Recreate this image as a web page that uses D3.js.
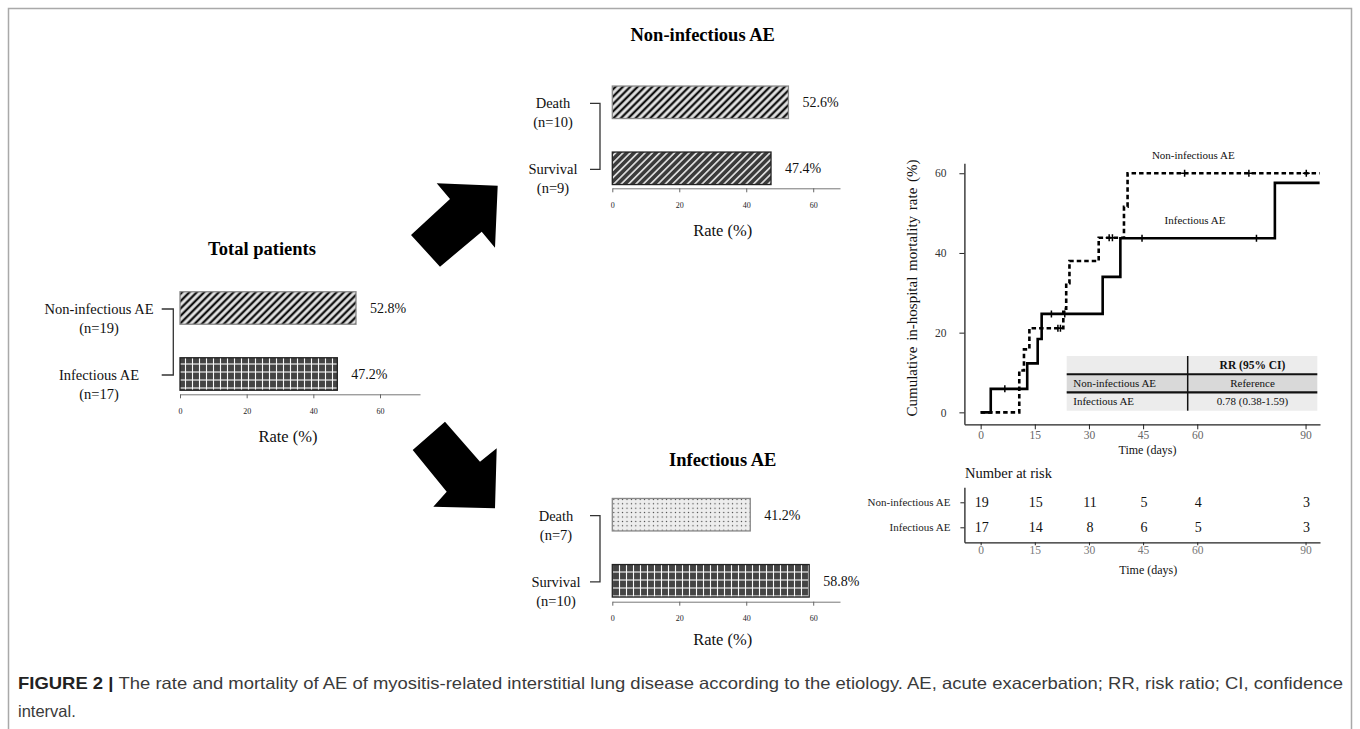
<!DOCTYPE html>
<html>
<head>
<meta charset="utf-8">
<script src="https://cdn.jsdelivr.net/npm/d3@7"></script>
<style>
  body { margin: 0; background: #fff; }
  text { font-family: "Liberation Serif", "Times New Roman", serif; fill: #111; }
  .cap text, text.cap { font-family: "Liberation Sans", Arial, sans-serif; }
</style>
</head>
<body>
<div id="fig"></div>
<script>
// ---- data ----
const totalCats = ["Non-infectious AE", "Infectious AE"];
const totalN = [19, 17];
const totalRate = [52.8, 47.2];

const nonInfCats = ["Death", "Survival"];
const nonInfN = [10, 9];
const nonInfRate = [52.6, 47.4];

const infCats = ["Death", "Survival"];
const infN = [7, 10];
const infRate = [41.2, 58.8];

const rateTicks = [0, 20, 40, 60];

// cumulative mortality curves (step after)
const kmDayTicks = [0, 15, 30, 45, 60, 90];
const kmRateTicks = [0, 20, 40, 60];
const kmEndDay = 93.9;
const nonInfStepDays = [0, 10.7, 12.0, 13.5, 22.9, 23.7, 24.6, 32.7, 39.7, 40.7];
const nonInfStepRates = [0, 10.5, 15.8, 21.1, 26.0, 32.4, 38.0, 43.8, 51.6, 60.0];
const infStepDays = [0, 2.8, 12.9, 15.8, 16.9, 33.8, 38.7, 81.5];
const infStepRates = [0, 5.9, 12.3, 18.4, 24.7, 34.0, 43.7, 57.6];
const nonInfCensorDays = [21.4, 22.1, 35.6, 36.5, 56.5, 74.3, 90.2];
const infCensorDays = [6.7, 19.6, 23.3, 44.7, 76.4];

const riskGroups = ["Non-infectious AE", "Infectious AE"];
const riskNonInf = [19, 15, 11, 5, 4, 3];
const riskInf = [17, 14, 8, 6, 5, 3];

const rrHeader = "RR (95% CI)";
const rrGroups = ["Non-infectious AE", "Infectious AE"];
const rrValues = ["Reference", "0.78 (0.38-1.59)"];

const W = 1360, H = 729;

const svg = d3.select("#fig").append("svg")
  .attr("width", W)
  .attr("height", H);

svg.append("rect").attr("width", W).attr("height", H).attr("fill", "#fff");

// figure frame
svg.append("path")
  .attr("d", "M8.5,729V8.5H1351.5V729")
  .attr("fill", "none")
  .attr("stroke", "#a9a9a9")
  .attr("stroke-width", 1.5);

// ---- fill patterns ----
const defs = svg.append("defs");

function hatch(id, bg, fg, w, sw) {
  const p = defs.append("pattern")
    .attr("id", id)
    .attr("patternUnits", "userSpaceOnUse")
    .attr("width", w)
    .attr("height", w)
    .attr("patternTransform", "rotate(45)");
  p.append("rect").attr("width", w).attr("height", w).attr("fill", bg);
  p.append("line")
    .attr("x1", w / 2).attr("x2", w / 2)
    .attr("y1", -1).attr("y2", w + 1)
    .attr("stroke", fg)
    .attr("stroke-width", sw);
}
hatch("hatchLight", "#e3e3e3", "#111", 5.2, 2.3);
hatch("hatchDark", "#3b3b3b", "#f2f2f2", 5.2, 1.5);

var grid = defs.append("pattern")
  .attr("id", "grid")
  .attr("patternUnits", "userSpaceOnUse")
  .attr("width", 7)
  .attr("height", 8);
grid.append("rect").attr("width", 7).attr("height", 8).attr("fill", "#444");
grid.append("line").attr("x1", 3.5).attr("x2", 3.5).attr("y1", 0).attr("y2", 8)
  .attr("stroke", "#fafafa").attr("stroke-width", 1.1);
grid.append("line").attr("x1", 0).attr("x2", 7).attr("y1", 4).attr("y2", 4)
  .attr("stroke", "#fafafa").attr("stroke-width", 1.1);

var dots = defs.append("pattern")
  .attr("id", "dots")
  .attr("patternUnits", "userSpaceOnUse")
  .attr("width", 4.4)
  .attr("height", 4.4);
dots.append("rect").attr("width", 4.4).attr("height", 4.4).attr("fill", "#ededed");
dots.append("circle").attr("cx", 2.2).attr("cy", 2.2).attr("r", 0.65).attr("fill", "#333");

// ---- bar panels ----
function barPanel(cfg) {
  const g = svg.append("g");
  const x = d3.scaleLinear().domain([0, cfg.xMax]).range([cfg.x0, cfg.x1]);
  const y = d3.scalePoint().domain(cfg.cats).range(cfg.yRange);
  const bh = 32.5;

  g.append("text")
    .attr("x", cfg.titleX)
    .attr("y", cfg.titleY)
    .attr("dy", "0.35em")
    .attr("text-anchor", "middle")
    .style("font-size", "18.5px")
    .style("font-weight", "bold")
    .style("fill", "#000")
    .text(cfg.title);

  g.selectAll("rect.bar")
    .data(cfg.cats)
    .join("rect")
    .attr("class", "bar")
    .attr("x", x(0))
    .attr("y", d => y(d) - bh / 2)
    .attr("width", (d, i) => x(cfg.rates[i]) - x(0))
    .attr("height", bh)
    .attr("fill", (d, i) => "url(#" + cfg.fills[i] + ")")
    .attr("stroke", (d, i) => cfg.strokes[i])
    .attr("stroke-width", 1.3);

  g.selectAll("text.val")
    .data(cfg.cats)
    .join("text")
    .attr("class", "val")
    .attr("x", (d, i) => x(cfg.rates[i]) + 14)
    .attr("y", d => y(d))
    .attr("dy", "0.35em")
    .style("font-size", "14px")
    .text((d, i) => cfg.rates[i].toFixed(1) + "%");

  // category labels, two lines
  const lab = g.selectAll("text.cat")
    .data(cfg.cats)
    .join("text")
    .attr("class", "cat")
    .attr("text-anchor", "middle")
    .style("font-size", "14.5px");
  lab.append("tspan")
    .attr("x", cfg.labelX)
    .attr("y", d => y(d) + 1)
    .attr("dy", "0.35em")
    .text(d => d);
  lab.append("tspan")
    .attr("x", cfg.labelX)
    .attr("y", d => y(d) + 20)
    .attr("dy", "0.35em")
    .text((d, i) => "(n=" + cfg.ns[i] + ")");

  // bracket joining the two groups
  const bx = x(0) - cfg.bracketGap;
  const ys = cfg.cats.map(d => y(d) + 1);
  g.append("path")
    .attr("d", "M" + (bx - cfg.bracketLen) + "," + ys[0] + "H" + bx + "V" + ys[1] + "H" + (bx - cfg.bracketLen))
    .attr("fill", "none")
    .attr("stroke", "#333")
    .attr("stroke-width", 1.3);

  const ax = g.append("g")
    .attr("transform", "translate(0," + cfg.axisY + ")")
    .call(d3.axisBottom(x).tickValues(rateTicks).tickSize(4).tickSizeOuter(0).tickPadding(10));
  ax.select(".domain").attr("stroke", "#777");
  ax.selectAll(".tick line").attr("stroke", "#666");
  ax.selectAll(".tick text")
    .style("font-family", "\"Liberation Serif\", serif")
    .style("font-size", "8px")
    .style("fill", "#222");

  g.append("text")
    .attr("x", cfg.rateX)
    .attr("y", cfg.axisY + cfg.rateDy)
    .attr("dy", "0.35em")
    .attr("text-anchor", "middle")
    .style("font-size", "16.5px")
    .text("Rate (%)");
}

barPanel({
  title: "Total patients", titleX: 262, titleY: 249,
  cats: totalCats, ns: totalN, rates: totalRate,
  fills: ["hatchLight", "grid"], strokes: ["#888", "#222"],
  xMax: 72, x0: 180, x1: 420, yRange: [308, 374],
  labelX: 99, bracketGap: 6.7, bracketLen: 11.6,
  axisY: 394.3, rateX: 288, rateDy: 42.4
});

barPanel({
  title: "Non-infectious AE", titleX: 702.7, titleY: 35,
  cats: nonInfCats, ns: nonInfN, rates: nonInfRate,
  fills: ["hatchLight", "hatchDark"], strokes: ["#888", "#222"],
  xMax: 68, x0: 612.3, x1: 840, yRange: [102.3, 168.3],
  labelX: 553, bracketGap: 12.3, bracketLen: 10,
  axisY: 188.3, rateX: 722.7, rateDy: 42.4
});

barPanel({
  title: "Infectious AE", titleX: 722.7, titleY: 460,
  cats: infCats, ns: infN, rates: infRate,
  fills: ["dots", "grid"], strokes: ["#888", "#222"],
  xMax: 68, x0: 612.3, x1: 840, yRange: [514.7, 580.8],
  labelX: 556, bracketGap: 12.3, bracketLen: 10,
  axisY: 601.7, rateX: 722.7, rateDy: 37.6
});

// ---- arrows ----
const arrowUp = [[436.7, 183.3], [497.7, 185.7], [495, 247.7], [481.7, 231.7], [440, 266.7], [411, 235], [450, 199]];
const arrowDown = [[445, 421.7], [480, 461.7], [496.7, 448.3], [495, 508.3], [433.3, 506.7], [446.7, 491.7], [412.7, 450]];
svg.selectAll("polygon.arrow")
  .data([arrowUp, arrowDown])
  .join("polygon")
  .attr("class", "arrow")
  .attr("points", d => d.map(p => p.join(",")).join(" "))
  .attr("fill", "#000");

// ---- cumulative mortality plot ----
const kx = d3.scaleLinear().domain([-4.5, 94]).range([964.4, 1320]);
const ky = d3.scaleLinear().domain([-3, 62.5]).range([424.3, 163.3]);

const km = svg.append("g");

const xAx = km.append("g")
  .attr("transform", "translate(0,424.3)")
  .call(d3.axisBottom(kx).tickValues(kmDayTicks).tickSize(5).tickSizeOuter(0).tickPadding(2));
const yAx = km.append("g")
  .attr("transform", "translate(964.4,0)")
  .call(d3.axisLeft(ky).tickValues(kmRateTicks).tickSize(5).tickSizeOuter(0).tickPadding(13));
[xAx, yAx].forEach(a => {
  a.select(".domain").attr("stroke", "#222").attr("stroke-width", 1.3);
  a.selectAll(".tick line").attr("stroke", "#222");
  a.selectAll(".tick text").style("font-family", "\"Liberation Serif\", serif").style("font-size", "11.5px");
});
xAx.selectAll(".tick text").style("fill", "#666");
yAx.selectAll(".tick text").style("fill", "#333");

km.append("text")
  .attr("transform", "translate(912,288) rotate(-90)")
  .attr("dy", "0.35em")
  .attr("text-anchor", "middle")
  .style("font-size", "15px")
  .style("word-spacing", "2px")
  .text("Cumulative in-hospital mortality rate (%)");

km.append("text")
  .attr("x", 1147.5).attr("y", 449.3).attr("dy", "0.35em")
  .attr("text-anchor", "middle")
  .style("font-size", "12px")
  .text("Time (days)");

function stepPoints(days, rates) {
  const pts = days.map((d, i) => [d, rates[i]]);
  pts.push([kmEndDay, rates[rates.length - 1]]);
  return pts;
}
function rateAt(days, rates, day) {
  let r = rates[0];
  days.forEach((d, i) => { if (d <= day) r = rates[i]; });
  return r;
}

const stepLine = d3.line()
  .x(d => kx(d[0]))
  .y(d => ky(d[1]))
  .curve(d3.curveStepAfter);

km.append("path")
  .attr("d", stepLine(stepPoints(infStepDays, infStepRates)))
  .attr("fill", "none")
  .attr("stroke", "#000")
  .attr("stroke-width", 2.6);

km.append("path")
  .attr("d", stepLine(stepPoints(nonInfStepDays, nonInfStepRates)))
  .attr("fill", "none")
  .attr("stroke", "#000")
  .attr("stroke-width", 2.6)
  .attr("stroke-dasharray", "4.5,3");

const censors = nonInfCensorDays.map(d => [d, rateAt(nonInfStepDays, nonInfStepRates, d)])
  .concat(infCensorDays.map(d => [d, rateAt(infStepDays, infStepRates, d)]));
km.selectAll("path.cens")
  .data(censors)
  .join("path")
  .attr("class", "cens")
  .attr("d", d => {
    const cx = kx(d[0]), cy = ky(d[1]);
    return "M" + (cx - 3.5) + "," + cy + "H" + (cx + 3.5) + "M" + cx + "," + (cy - 3.5) + "V" + (cy + 3.5);
  })
  .attr("stroke", "#000")
  .attr("stroke-width", 1.5);

km.append("text")
  .attr("x", 1193.3).attr("y", 155).attr("dy", "0.35em")
  .attr("text-anchor", "middle")
  .style("font-size", "11px")
  .text("Non-infectious AE");
km.append("text")
  .attr("x", 1195).attr("y", 220).attr("dy", "0.35em")
  .attr("text-anchor", "middle")
  .style("font-size", "11px")
  .text("Infectious AE");

// ---- RR table ----
const tRows = d3.scaleBand().domain([0, 1, 2]).range([356, 410.7]);
const tx0 = 1066.7, tx1 = 1317.3, tDiv = 1187.7;
const tbl = km.append("g");
tbl.selectAll("rect.row")
  .data([0, 1, 2])
  .join("rect")
  .attr("class", "row")
  .attr("x", tx0)
  .attr("y", d => tRows(d))
  .attr("width", tx1 - tx0)
  .attr("height", tRows.bandwidth())
  .attr("fill", d => d === 1 ? "#d9d9d9" : "#ececec");
tbl.selectAll("line.rule")
  .data([1, 2])
  .join("line")
  .attr("class", "rule")
  .attr("x1", tx0).attr("x2", tx1)
  .attr("y1", d => tRows(d)).attr("y2", d => tRows(d))
  .attr("stroke", "#111")
  .attr("stroke-width", 2.2);
tbl.append("line")
  .attr("x1", tDiv).attr("x2", tDiv)
  .attr("y1", tRows(0)).attr("y2", tRows(2) + tRows.bandwidth())
  .attr("stroke", "#111")
  .attr("stroke-width", 1.5);
tbl.append("text")
  .attr("x", (tDiv + tx1) / 2).attr("y", tRows(0) + tRows.bandwidth() / 2).attr("dy", "0.35em")
  .attr("text-anchor", "middle")
  .style("font-size", "11.5px")
  .style("font-weight", "bold")
  .text(rrHeader);
tbl.selectAll("text.grp")
  .data(rrGroups)
  .join("text")
  .attr("class", "grp")
  .attr("x", tx0 + 6.6)
  .attr("y", (d, i) => tRows(i + 1) + tRows.bandwidth() / 2)
  .attr("dy", "0.35em")
  .style("font-size", "11px")
  .text(d => d);
tbl.selectAll("text.rr")
  .data(rrValues)
  .join("text")
  .attr("class", "rr")
  .attr("x", (tDiv + tx1) / 2)
  .attr("y", (d, i) => tRows(i + 1) + tRows.bandwidth() / 2)
  .attr("dy", "0.35em")
  .attr("text-anchor", "middle")
  .style("font-size", "11px")
  .text(d => d);

// ---- number at risk ----
const risk = svg.append("g");
const ry = d3.scalePoint().domain(riskGroups).range([487.3, 542.3]).padding(0.6);

risk.append("text")
  .attr("x", 965).attr("y", 473.3).attr("dy", "0.35em")
  .style("font-size", "14.5px")
  .text("Number at risk");

const rxAx = risk.append("g")
  .attr("transform", "translate(0,542.3)")
  .call(d3.axisBottom(kx).tickValues(kmDayTicks).tickSize(3).tickSizeOuter(0).tickPadding(1));
const ryAx = risk.append("g")
  .attr("transform", "translate(964.4,0)")
  .call(d3.axisLeft(ry).tickSize(4).tickSizeOuter(0).tickPadding(10));
[rxAx, ryAx].forEach(a => {
  a.select(".domain").attr("stroke", "#222").attr("stroke-width", 1.3);
  a.selectAll(".tick line").attr("stroke", "#222");
  a.selectAll(".tick text").style("font-family", "\"Liberation Serif\", serif").style("font-size", "11px");
});
rxAx.selectAll(".tick text").style("fill", "#777").style("font-size", "11.5px");
ryAx.selectAll(".tick text").style("fill", "#222");

[riskNonInf, riskInf].forEach((vals, gi) => {
  risk.selectAll("text.n" + gi)
    .data(vals)
    .join("text")
    .attr("class", "n" + gi)
    .attr("x", (d, i) => kx(kmDayTicks[i]) + 1)
    .attr("y", ry(riskGroups[gi]))
    .attr("dy", "0.35em")
    .attr("text-anchor", "middle")
    .style("font-size", "14px")
    .text(d => d);
});

risk.append("text")
  .attr("x", 1148.3).attr("y", 570).attr("dy", "0.35em")
  .attr("text-anchor", "middle")
  .style("font-size", "12px")
  .text("Time (days)");

// ---- caption ----
const cap = svg.append("g").attr("class", "cap");
const line1 = cap.append("text")
  .attr("x", 18).attr("y", 689)
  .attr("textLength", 1325)
  .attr("lengthAdjust", "spacingAndGlyphs")
  .style("font-size", "16.5px")
  .style("fill", "#3a3a3a");
line1.append("tspan").style("font-weight", "bold").style("fill", "#222").text("FIGURE 2 | ");
line1.append("tspan").text("The rate and mortality of AE of myositis-related interstitial lung disease according to the etiology. AE, acute exacerbation; RR, risk ratio; CI, confidence");
cap.append("text")
  .attr("x", 18).attr("y", 717)
  .style("font-size", "16.5px")
  .style("fill", "#3a3a3a")
  .text("interval.");
</script>
</body>
</html>
